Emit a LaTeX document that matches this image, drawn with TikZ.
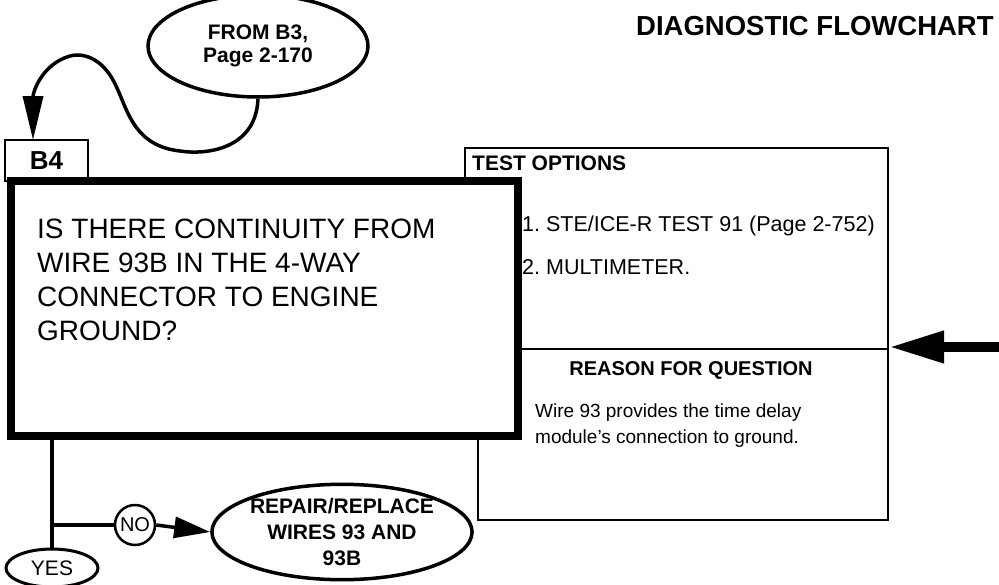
\documentclass[tikz,border=0pt]{standalone}
\usepackage{fontspec}
\setmainfont{Liberation Sans}
\usetikzlibrary{shapes.geometric,arrows.meta}
\frenchspacing
\tikzset{
  qtext/.style={font=\fontsize{28}{34}\selectfont, anchor=base west, inner sep=0pt},
  opttext/.style={font=\fontsize{21.5}{26}\selectfont, anchor=base west, inner sep=0pt},
  hdtext/.style={font=\bfseries\fontsize{21}{26}\selectfont, inner sep=0pt},
  rtext/.style={font=\fontsize{19}{26}\selectfont, anchor=base west, inner sep=0pt},
  oval/.style={ellipse, draw, line width=3.5pt, inner sep=0pt, align=center},
  thin/.style={line width=2.5pt},
  link/.style={line width=3.5pt},
  bigtip/.style={-{Triangle[length=44pt,width=20pt]}},
  midtip/.style={-{Triangle[length=36pt,width=21pt]}},
}
\begin{document}
\begin{tikzpicture}[x=1pt,y=-1pt]
\useasboundingbox (0,0) rectangle (999,584);
% title
\node[font=\bfseries\fontsize{27.5}{34}\selectfont, anchor=base west, inner sep=0pt] (title) at (636,35) {DIAGNOSTIC FLOWCHART};
% from ellipse
\node[oval, minimum width=220pt, minimum height=102pt, font=\bfseries\fontsize{21}{23}\selectfont] (from) at (258,46) {FROM B3,\\Page 2-170};
% B4 box
\node[draw, thin, minimum width=83pt, minimum height=41pt, inner sep=0pt, font=\bfseries\fontsize{26}{30}\selectfont] (b4) at (46.5,160.5) {B4};
% main thick box
\node[draw, line width=8pt, minimum width=507pt, minimum height=255pt, inner sep=0pt] (qbox) at (264.5,308.5) {};
\node[qtext] (q1) at (37,238) {IS THERE CONTINUITY FROM};
\node[qtext] (q2) at (37,272) {WIRE 93B IN THE 4-WAY};
\node[qtext] (q3) at (37,306) {CONNECTOR TO ENGINE};
\node[qtext] (q4) at (37,340) {GROUND?};
% test options / reason box
\coordinate (tl) at (465,177);
\coordinate (bl) at (478,436);
\coordinate (dl) at (518,349);
\coordinate (dr) at (888,349);
\draw[thin] (tl) -- (465,148) -- (888,148) -- (888,520) -- (478,520) -- (bl);
\draw[thin] (dl) -- (dr);
\node[hdtext, anchor=base west] (to) at (472,170) {TEST OPTIONS};
\node[opttext] (o1) at (522,231) {1. STE/ICE-R TEST 91 (Page 2-752)};
\node[opttext] (o2) at (522,274) {2. MULTIMETER.};
\node[hdtext, font=\bfseries\fontsize{20}{26}\selectfont, anchor=base] (rq) at (691,375) {REASON FOR QUESTION};
\node[rtext] (r1) at (535,417) {Wire 93 provides the time delay};
\node[rtext] (r2) at (535,443) {module's connection to ground.};
% incoming arrow on right
\coordinate (rin) at (999,347);
\coordinate (rtip) at (889,347);
\draw[line width=10pt, -{Triangle[length=55pt,width=30pt]}] (rin) -- (rtip);
% curve from ellipse to B4
\coordinate (b4in) at (33,140);
\draw[link, bigtip] (from.south) .. controls (256,150) and (205,155) .. (180,151)
  .. controls (135,146) and (128,112) .. (117,88)
  .. controls (105,60) and (85,52) .. (70,56)
  .. controls (42,64) and (33,92) .. (b4in);
% outputs
\coordinate (qout) at (52,440);
\coordinate (br) at (52,525);
\node[oval, line width=3pt, minimum width=92pt, minimum height=38pt, font=\fontsize{21}{24}\selectfont] (yes) at (52,568) {YES};
\node[circle, draw, line width=2.5pt, minimum size=40pt, inner sep=0pt, font=\fontsize{20}{22}\selectfont] (no) at (135,525) {NO};
\node[oval, minimum width=246pt, minimum height=94pt, font=\bfseries\fontsize{21}{26}\selectfont] (rep) at (342,532) {REPAIR/REPLACE\\WIRES 93 AND\\93B};
\draw[link] (qout) -- (yes.north);
\draw[link] (br) -- (no.west);
\draw[link, midtip] (no.east) -- (rep.west);
\end{tikzpicture}
\end{document}
